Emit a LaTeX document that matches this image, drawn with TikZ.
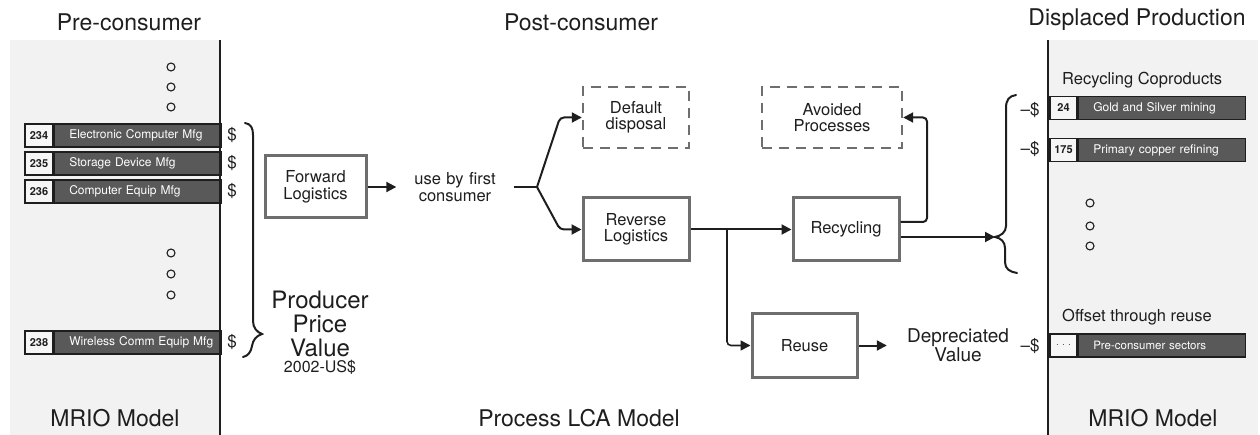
\documentclass[tikz,border=0pt]{standalone}
\usepackage{fontspec}
\setmainfont{TeX Gyre Heros}
\usetikzlibrary{arrows.meta,positioning}

\definecolor{panel}{HTML}{F2F2F2}
\definecolor{barfill}{HTML}{595959}
\definecolor{boxline}{HTML}{6E6E6E}
\definecolor{ink}{HTML}{1E1E1E}
\definecolor{numfill}{HTML}{F6F6F6}

\newcommand{\setfs}[1]{\fontsize{#1}{#1}\selectfont}

\tikzset{
  title/.style={font=\setfs{23}, text=ink, inner sep=0pt},
  note/.style={font=\setfs{16.5}, text=ink, inner sep=0pt},
  procbox/.style={draw=boxline, line width=3pt, fill=white, align=center,
    font=\setfs{16.5}, text=ink, inner sep=0pt},
  dashbox/.style={procbox, line width=2.4pt, dash pattern=on 10pt off 7pt},
  arr/.style={line width=2pt, draw=ink, -{Triangle[length=10pt,width=10pt]}},
  link/.style={line width=2pt, draw=ink},
  numbox/.style={draw=ink, line width=1.3pt, fill=numfill, minimum width=28pt,
    minimum height=23pt, inner sep=0pt, font=\setfs{11}\bfseries, text=ink},
  barbox/.style={draw=ink, line width=1.3pt, fill=barfill, text=white,
    minimum height=23pt, text width=137pt, inner xsep=15pt, inner ysep=0pt,
    align=left, font=\setfs{12}},
  dollar/.style={font=\setfs{17}, text=ink, inner sep=0pt},
  seqdot/.style={circle, draw=ink, line width=1.1pt, minimum size=8pt, inner sep=0pt},
  panelline/.style={line width=2pt, draw=ink},
  bracepath/.style={line width=2pt, draw=ink, line cap=round}
}

\begin{document}
\begin{tikzpicture}[x=1pt, y=-1pt]
\useasboundingbox (0,0) rectangle (1260,435);

% ---------- left MRIO panel ----------
\fill[panel] (10,40) rectangle (220,435);
\node[title] (pre) at (129,22) {Pre-consumer};
\node[title] (mrioL) at (115,418) {MRIO Model};

\foreach \yy in {67,87,107,253,274,295}
  \node[seqdot] at (171,\yy) {};

\node[numbox] (n234) at (39,135.5) {234};
\node[barbox, anchor=west] (b234) at (n234.east) {Electronic Computer Mfg};
\node[numbox] (n235) at (39,163.5) {235};
\node[barbox, anchor=west] (b235) at (n235.east) {Storage Device Mfg};
\node[numbox] (n236) at (39,191.5) {236};
\node[barbox, anchor=west] (b236) at (n236.east) {Computer Equip Mfg};
\node[numbox] (n238) at (39,342.5) {238};
\node[barbox, anchor=west] (b238) at (n238.east) {\mbox{Wireless Comm Equip Mfg}};

\draw[panelline] (220,40) -- (220,435);

\node[dollar] (d234) at (232,135.5) {\$};
\node[dollar] (d235) at (232,163.5) {\$};
\node[dollar] (d236) at (232,191.5) {\$};
\node[dollar] (d238) at (232,342.5) {\$};

% brace gathering the producer prices
\draw[bracepath] (245,123) .. controls (251,124) and (253,128) .. (253,135)
  -- (253,321) .. controls (253,328) and (257,332) .. (262,334)
  .. controls (256,336) and (253,340) .. (252,346)
  .. controls (251,352) and (248,356) .. (243,357);

\node[font=\setfs{24}, text=ink, align=center, inner sep=0pt] (ppv) at (320,324)
  {\fontsize{24}{19}\selectfont Producer\\Price\\Value};
\node[font=\setfs{16}, text=ink, inner sep=0pt] (usd) at (320,367) {2002-US\$};

% ---------- process LCA model ----------
\node[title] (post) at (581,22) {Post-consumer};
\node[title] (lca) at (579,418) {Process LCA Model};

\node[procbox, minimum width=101pt, minimum height=62pt] (fwd) at (315.5,187) {Forward\\Logistics};
\node[note, align=center, text width=92pt, inner xsep=12.5pt] (use) at (455,187) {use by first\\consumer};
\node[dashbox, minimum width=106pt, minimum height=61pt] (dflt) at (636,117.5) {Default\\disposal};
\node[dashbox, minimum width=140pt, minimum height=61pt] (avoid) at (832,117.5) {Avoided\\Processes};
\node[procbox, minimum width=106pt, minimum height=63pt] (rev) at (636,229.5) {Reverse\\Logistics};
\node[procbox, minimum width=106pt, minimum height=63pt] (rec) at (846,229.5) {Recycling};
\node[procbox, minimum width=105pt, minimum height=63pt] (reuse) at (804.5,345.5) {Reuse};
\node[font=\setfs{19}, text=ink, align=center, text width=104pt, inner xsep=19pt, inner ysep=0pt]
  (dep) at (958,345.5) {\fontsize{19}{18}\selectfont Depreciated\\Value};

\coordinate (fork) at (537,187);
\coordinate (split) at (727,229.5);
\coordinate (loop) at (927,117.5);
\coordinate (btip) at (995,237);

\draw[arr] (fwd.east) -- (use.west);
\draw[link] (use.east) -- (fork);
\draw[arr, rounded corners=4pt] (fork) -- (560,117.5) -- (dflt.west);
\draw[arr, rounded corners=4pt] (fork) -- (560,229.5) -- (rev.west);
\draw[arr] (rev.east) -- (rec.west);
\draw[arr, line width=1.6pt, rounded corners=4pt] (split) |- (reuse.west);
\draw[arr] (reuse.east) -- (dep.west);
\draw[arr, rounded corners=4pt] ([yshift=7.5pt]rec.east) -| (loop) -- (avoid.east);
\draw[arr] ([yshift=-7.5pt]rec.east) -- (btip);

% ---------- right MRIO panel ----------
\fill[panel] (1048,40) rectangle (1258,435);
\node[title] (disp) at (1137,20) {Displaced Production};
\node[title] (mrioR) at (1153,418) {MRIO Model};

\node[note, anchor=west] (coprod) at (1062,80) {Recycling Coproducts};
\node[note, anchor=west] (offset) at (1062,317) {Offset through reuse};

\foreach \yy in {203,226,246}
  \node[seqdot] at (1090,\yy) {};

\node[numbox, minimum width=27pt] (n24) at (1063.5,108) {24};
\node[barbox, anchor=west] (b24) at (n24.east) {Gold and Silver mining};
\node[numbox, minimum width=27pt] (n175) at (1063.5,150) {175};
\node[barbox, anchor=west] (b175) at (n175.east) {Primary copper refining};
\node[numbox, minimum width=27pt, font=\setfs{10}] (npre) at (1063.5,345.5) {·\,\,·\,\,·};
\node[barbox, anchor=west, font=\setfs{11.5}] (bpre) at (npre.east) {Pre-consumer sectors};

\draw[panelline] (1048,40) -- (1048,435);

\node[dollar] (m24) at (1030,110) {–\$};
\node[dollar] (m175) at (1030,149) {–\$};
\node[dollar] (mdep) at (1030,346) {–\$};

% brace collecting the recycling coproducts
\draw[bracepath] (1016,95) .. controls (1009,96) and (1006,100) .. (1006,108)
  -- (1006,226) .. controls (1006,232) and (1001,236) .. (995,237)
  .. controls (1001,238) and (1005,242) .. (1005,248)
  -- (1005,262) .. controls (1005,269) and (1010,272) .. (1017,273);

\end{tikzpicture}
\end{document}
